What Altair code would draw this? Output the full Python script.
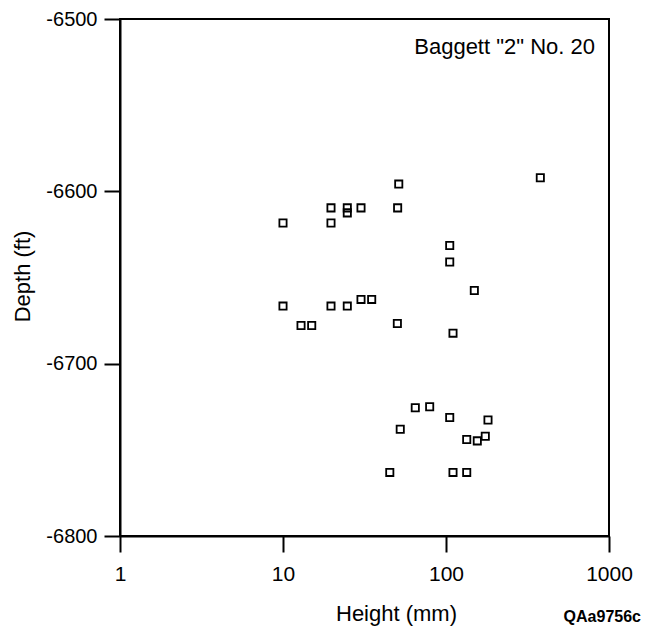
import altair as alt
import pandas as pd

# Height (mm) and depth (ft)
height_mm = [379, 51.3, 19.7, 24.8, 24.8, 30.1, 50.5, 10.0, 19.7, 105.4,
             105.4, 149.2, 30.1, 35.0, 10.0, 19.7, 24.8, 12.9, 15.0, 50.3,
             110.4, 64.8, 79.4, 105.4, 181, 52.4, 134, 155.6, 174.2, 45.2,
             110.4, 134]
depth_ft = [-6592.1, -6595.8, -6609.6, -6609.6, -6612.5, -6609.6, -6609.6, -6618.4, -6618.4, -6631.4,
            -6641.0, -6657.5, -6662.7, -6662.7, -6666.6, -6666.6, -6666.6, -6677.9, -6677.9, -6676.7,
            -6682.3, -6725.6, -6725.0, -6731.2, -6732.7, -6738.1, -6744.0, -6744.8, -6742.1, -6763.1,
            -6763.1, -6763.1]
x_ticks = [1, 10, 100, 1000]
y_ticks = [-6800, -6700, -6600, -6500]
well_label = 'Baggett "2" No. 20'
figure_id = "QAa9756c"

FONT = "Liberation Sans"
W, H = 489, 517
TOP = 11

chart_df = pd.DataFrame({"height": height_mm, "depth": depth_ft})

points = alt.Chart(chart_df).mark_point(
    shape="square", filled=False, size=52, strokeWidth=1.8, color="black", opacity=1
).encode(
    x=alt.X("height:Q",
            scale=alt.Scale(type="log", domain=[1, 1000], nice=False),
            axis=alt.Axis(values=x_ticks, title="Height (mm)", labelExpr="datum.value + ''",
                          grid=False, tickSize=16, labelPadding=11, labelFontSize=21,
                          titleX=276, titleY=77, titleBaseline="middle")),
    y=alt.Y("depth:Q",
            scale=alt.Scale(domain=[-6800, -6500], nice=False, zero=False),
            axis=alt.Axis(values=y_ticks, title="Depth (ft)", labelExpr="datum.value + ''",
                          grid=False, tickSize=16, labelPadding=7, labelFontSize=20,
                          titleX=-98, titleY=(276 - 8 - TOP), titleBaseline="middle",
                          titleAlign="center")),
)

label = alt.Chart(pd.DataFrame({"t": [well_label]})).mark_text(
    font=FONT, fontSize=22, align="right", baseline="middle", color="black"
).encode(text="t:N", x=alt.value(475), y=alt.value(47 - 8 - TOP))

fig_id = alt.Chart(pd.DataFrame({"t": [figure_id]})).mark_text(
    font=FONT, fontSize=16, fontWeight="bold", align="right", baseline="middle", color="black"
).encode(text="t:N", x=alt.value(521), y=alt.value(617 - 8 - TOP))

chart = alt.layer(points, label, fig_id).properties(
    width=W, height=H,
    autosize=alt.AutoSizeParams(type="none"),
    padding={"left": 112, "top": TOP, "right": 33, "bottom": 618 - TOP - H},
    background="white",
).configure_view(
    stroke="black", strokeWidth=2
).configure_axis(
    domainColor="black", domainWidth=2, tickColor="black", tickWidth=2,
    labelFont=FONT, labelColor="black",
    titleFont=FONT, titleFontSize=22, titleFontWeight="normal", titleColor="black",
    labelFlush=False, labelOverlap=False,
)

chart.save("out.html", embed_options={"renderer": "svg", "actions": False})
